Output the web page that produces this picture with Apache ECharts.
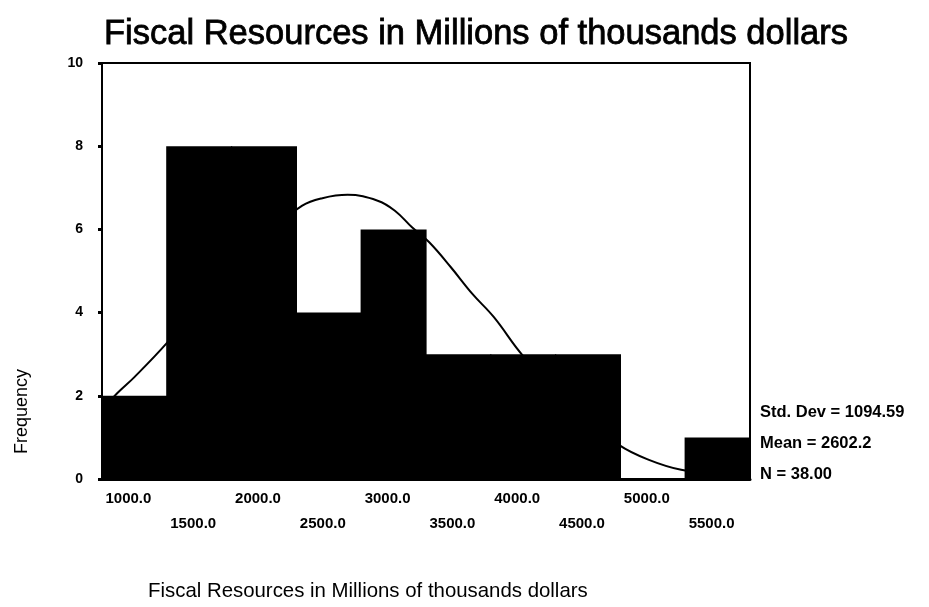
<!DOCTYPE html>
<html>
<head>
<meta charset="utf-8">
<script src="https://cdn.jsdelivr.net/npm/echarts@6/dist/echarts.min.js"></script>
<style>
  html, body { margin: 0; padding: 0; background: #fff; }
  #chart { width: 929px; height: 607px; }
</style>
</head>
<body>
<div id="chart"></div>
<script>
// Histogram bins (bin centres) and counts
var binLabels = ['1000.0', '1500.0', '2000.0', '2500.0', '3000.0', '3500.0', '4000.0', '4500.0', '5000.0', '5500.0'];
var binCounts = [2, 8, 8, 4, 6, 3, 3, 3, 0, 1];

// Fitted normal curve, sampled along the value range of the bins
var curveX = [750, 867, 1000, 1248, 1500, 1750, 2000, 2295, 2450, 2645, 2877, 3010, 3142, 3275, 3442, 3608, 3774, 4007, 4250, 4500, 4738, 4970, 5219, 5500, 5750];
var curveY = [1.65, 2.06, 2.45, 3.26, 4.2, 5.1, 5.85, 6.57, 6.75, 6.83, 6.69, 6.45, 6.05, 5.69, 5.09, 4.45, 3.89, 2.93, 2.2, 1.45, 0.82, 0.46, 0.22, 0.12, 0.06];

// Frequency axis ticks
var yMin = 0, yMax = 10, yStep = 2;

// Summary statistics
var statLines = ['Std. Dev = 1094.59', 'Mean = 2602.2', 'N = 38.00'];

var titleText = 'Fiscal Resources in Millions of thousands dollars';
var xName = 'Fiscal Resources in Millions of thousands dollars';
var yName = 'Frequency';

var FONT = '"Liberation Sans", Arial, sans-serif';

var chart = echarts.init(document.getElementById('chart'));

var grid = { left: 102, right: 179, top: 63, bottom: 128, show: true, borderColor: '#000', borderWidth: 2, backgroundColor: 'transparent' };

var statGraphics = statLines.map(function (t, i) {
  return {
    type: 'text', left: 760, top: 404 + i * 31,
    style: { text: t, font: 'bold 16.5px ' + FONT, fill: '#000' }
  };
});

chart.setOption({
  animation: false,
  backgroundColor: '#fff',
  title: {
    text: titleText, left: 99, top: 12,
    textStyle: { fontFamily: FONT, fontSize: 34.5, fontWeight: 'normal', color: '#000', textBorderColor: '#000', textBorderWidth: 0.8 }
  },
  grid: grid,
  xAxis: [
    {
      type: 'category', data: binLabels, gridIndex: 0,
      axisLine: { lineStyle: { color: '#000', width: 3 } },
      axisTick: { alignWithLabel: true, length: 3, lineStyle: { color: '#000', width: 3 } },
      axisLabel: {
        margin: 7, fontFamily: FONT, fontSize: 15, fontWeight: 'bold', color: '#000', lineHeight: 25,
        interval: 0, padding: [0, 12, 0, 0],
        formatter: function (v, i) { return i % 2 ? '\n' + v : v; }
      },
      splitLine: { show: false }
    },
    {
      type: 'value', gridIndex: 0, min: 750, max: 5750, show: false
    }
  ],
  yAxis: {
    type: 'value', min: yMin, max: yMax, interval: yStep,
    axisLine: { show: true, lineStyle: { color: '#000', width: 2 } },
    axisTick: { show: true, length: 4, lineStyle: { color: '#000', width: 3 } },
    axisLabel: { margin: 19, fontFamily: FONT, fontSize: 14, fontWeight: 'bold', color: '#000' },
    splitLine: { show: false }
  },
  series: [
    {
      // bars slightly wider than the band so neighbouring bins merge without seams
      type: 'bar', xAxisIndex: 0, data: binCounts,
      barWidth: 66, itemStyle: { color: '#000' }, z: 2
    },
    {
      type: 'line', xAxisIndex: 1,
      data: curveX.map(function (x, i) { return [x, curveY[i]]; }),
      smooth: 0.4, showSymbol: false, symbol: 'none',
      lineStyle: { color: '#000', width: 2 }, z: 3
    }
  ],
  graphic: [
    {
      type: 'text', left: 148, top: 581,
      style: { text: xName, font: '20.4px ' + FONT, fill: '#000' }
    },
    {
      type: 'text', x: 13, y: 454, rotation: Math.PI / 2,
      style: { text: yName, font: '18px ' + FONT, fill: '#000' }
    }
  ].concat(statGraphics)
});
</script>
</body>
</html>
